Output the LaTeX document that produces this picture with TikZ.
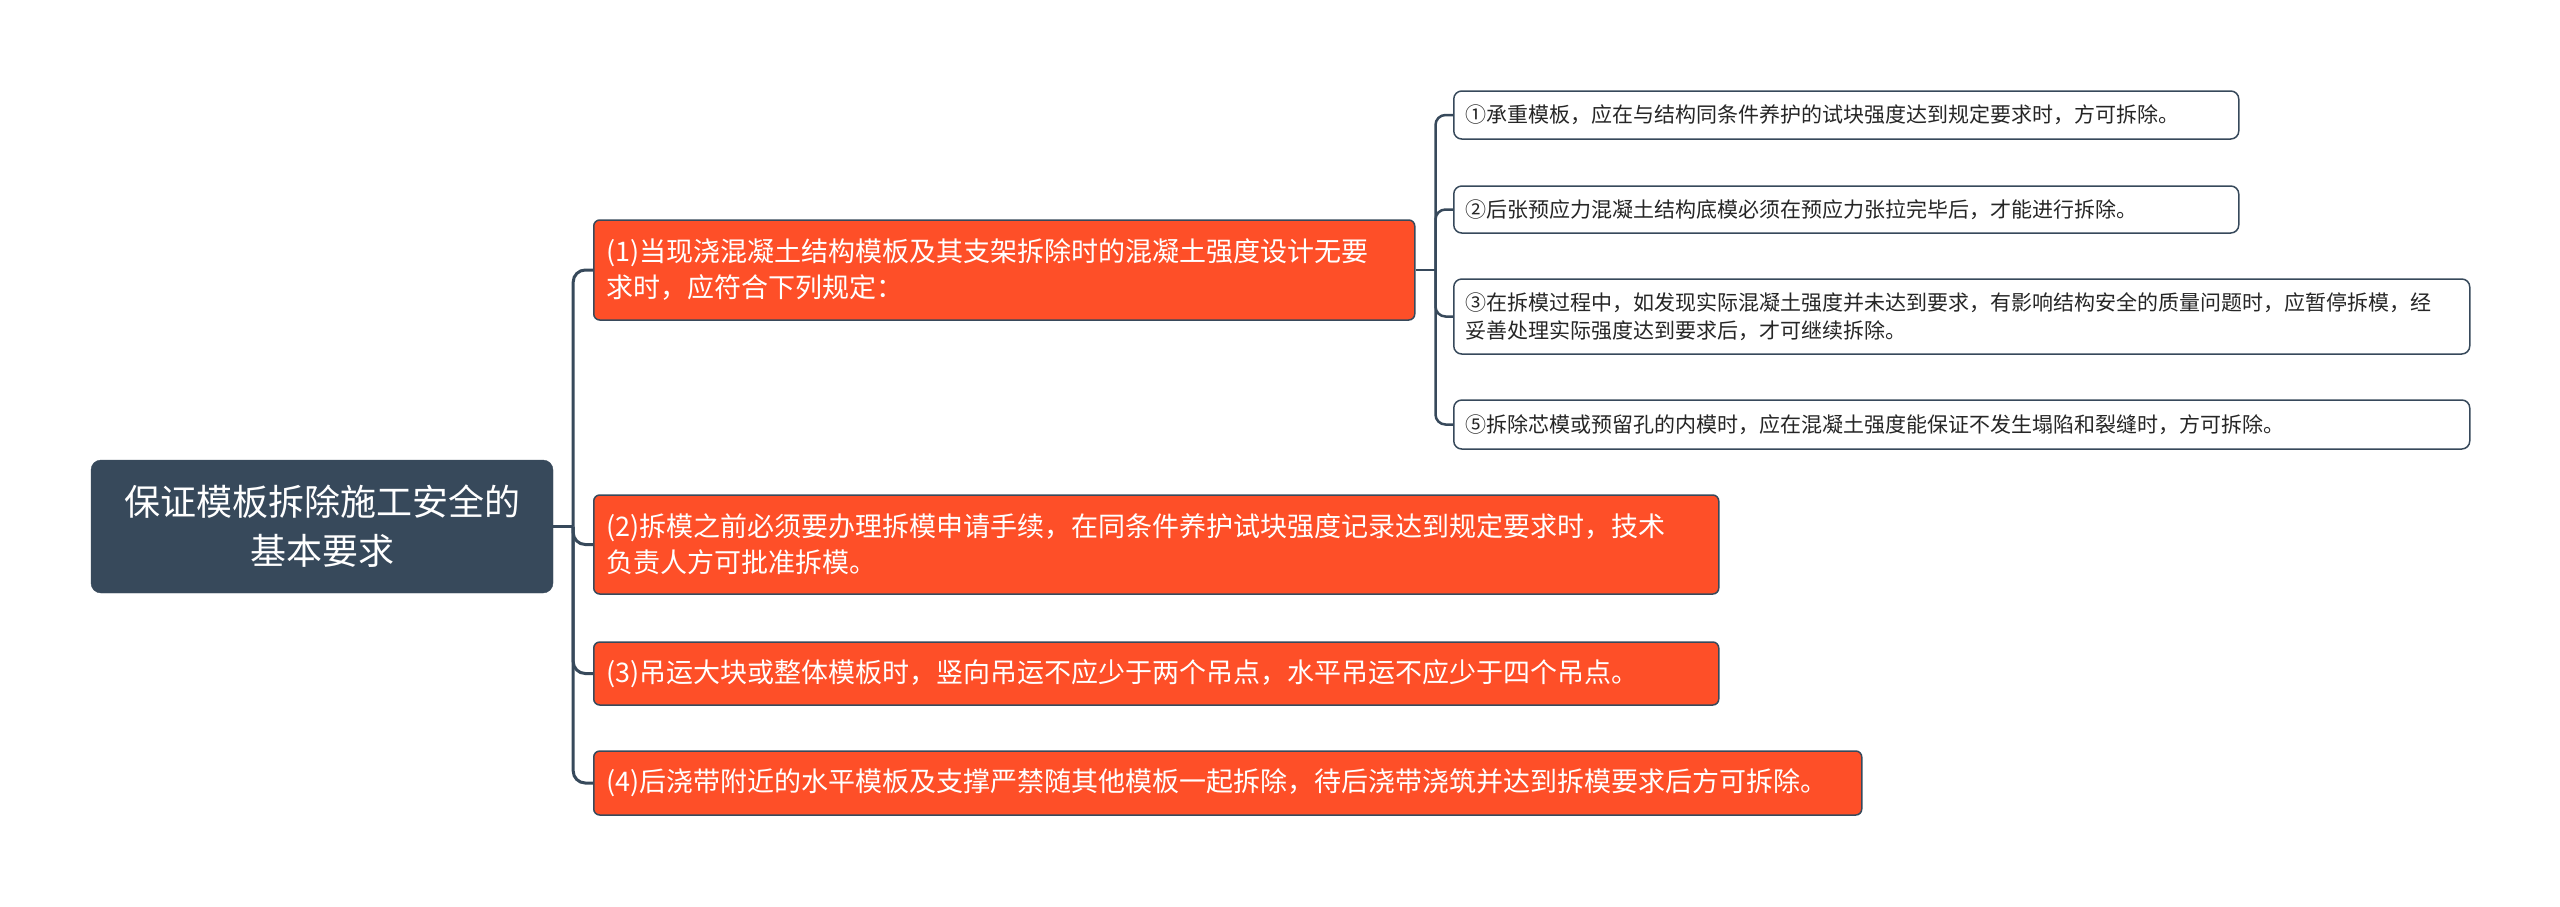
\documentclass[tikz,border=0pt]{standalone}
\usepackage{fontspec}
\setmainfont{Noto Sans CJK SC}
\definecolor{slate}{HTML}{37495B}
\definecolor{orng}{HTML}{FE4F28}
\tikzset{
  rootbox/.style={draw=slate, fill=slate, rounded corners=10pt, text=white,
    font=\fontsize{36}{49}\selectfont, align=center, inner sep=0pt},
  branchbox/.style={draw=slate, line width=1.5pt, fill=orng, rounded corners=6pt, text=white,
    font=\fontsize{27}{36}\selectfont, align=left, inner xsep=13pt, inner ysep=0pt, anchor=west},
  subbox/.style={draw=slate, line width=1.5pt, fill=white, rounded corners=8pt, text=black!85,
    font=\fontsize{21}{28}\selectfont, align=left, inner xsep=12pt, inner ysep=0pt, anchor=west},
  conn/.style={draw=slate, line width=3pt, rounded corners=12pt},
  subconn/.style={draw=slate, line width=2.5pt, rounded corners=10pt},
}
\begin{document}
\begin{tikzpicture}[x=1pt,y=-1pt]
\useasboundingbox (0,0) rectangle (2560,906);
\node[rootbox, minimum width=462pt, minimum height=133pt] (root) at (322,526.5)
  {保证模板拆除施工安全的\\基本要求};

\node[branchbox, minimum width=821pt, minimum height=100pt, text width=795pt] (b1) at (593,270)
  {(1)当现浇混凝土结构模板及其支架拆除时的混凝土强度设计无要\\求时，应符合下列规定：};
\node[branchbox, minimum width=1125pt, minimum height=99pt, text width=1099pt] (b2) at (593,544.5)
  {(2)拆模之前必须要办理拆模申请手续，在同条件养护试块强度记录达到规定要求时，技术\\负责人方可批准拆模。};
\node[branchbox, minimum width=1125pt, minimum height=63pt, text width=1099pt] (b3) at (593,673.5)
  {(3)吊运大块或整体模板时，竖向吊运不应少于两个吊点，水平吊运不应少于四个吊点。};
\node[branchbox, minimum width=1268pt, minimum height=64pt, text width=1242pt] (b4) at (593,783)
  {(4)后浇带附近的水平模板及支撑严禁随其他模板一起拆除，待后浇带浇筑并达到拆模要求后方可拆除。};

\node[subbox, minimum width=785pt, minimum height=48pt, text width=761pt] (s1) at (1453,115)
  {①承重模板，应在与结构同条件养护的试块强度达到规定要求时，方可拆除。};
\node[subbox, minimum width=785pt, minimum height=47pt, text width=761pt] (s2) at (1453,209.5)
  {②后张预应力混凝土结构底模必须在预应力张拉完毕后，才能进行拆除。};
\node[subbox, minimum width=1016pt, minimum height=75pt, text width=992pt] (s3) at (1453,316.5)
  {③在拆模过程中，如发现实际混凝土强度并未达到要求，有影响结构安全的质量问题时，应暂停拆模，经\\妥善处理实际强度达到要求后，才可继续拆除。};
\node[subbox, minimum width=1016pt, minimum height=49pt, text width=992pt] (s5) at (1453,424.5)
  {⑤拆除芯模或预留孔的内模时，应在混凝土强度能保证不发生塌陷和裂缝时，方可拆除。};

\coordinate (rj) at ([xshift=20pt]root.east);
\draw[conn] (root.east) -- (rj);
\draw[conn] (rj) |- (b1.west);
\draw[conn] (rj) |- (b2.west);
\draw[conn] (rj) |- (b3.west);
\draw[conn] (rj) |- (b4.west);

\coordinate (sj) at ([xshift=20pt]b1.east);
\draw[subconn] (b1.east) -- (sj);
\draw[subconn] (sj) |- (s1.west);
\draw[subconn] (sj) |- (s2.west);
\draw[subconn] (sj) |- (s3.west);
\draw[subconn] (sj) |- (s5.west);
\end{tikzpicture}
\end{document}
